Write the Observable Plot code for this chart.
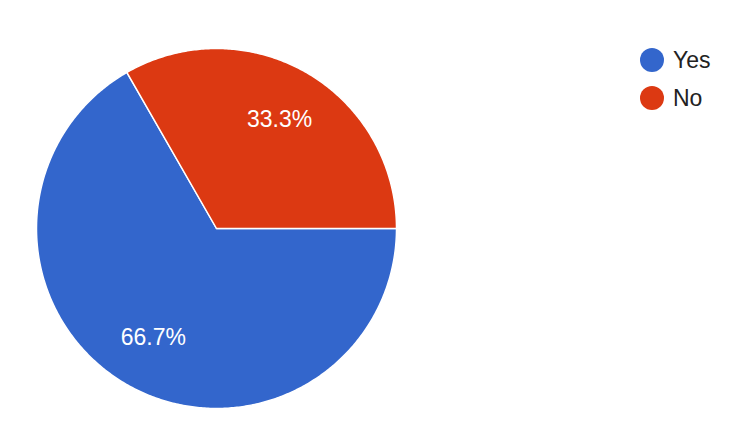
<!DOCTYPE html>
<html>
<head>
<meta charset="utf-8">
<script src="https://cdn.jsdelivr.net/npm/d3@7"></script>
<script src="https://cdn.jsdelivr.net/npm/@observablehq/plot@0.6"></script>
<style>
  body { margin: 0; background: #fff; }
  #wrap { position: relative; width: 738px; height: 448px; font-family: Arial, "Liberation Sans", sans-serif; }
  #legend { position: absolute; left: 640px; top: 41px; }
  .item { display: flex; align-items: center; height: 38px; font-size: 23px; color: #222; }
  .sw { width: 24px; height: 24px; border-radius: 50%; margin-right: 9px; }
</style>
</head>
<body>
<div id="wrap"><div id="legend"></div></div>
<script>
const categories = ["Yes", "No"];
const values = [66.7, 33.3];
const colors = ["#3366cc", "#dc3912"];

const startOffset = Math.PI / 2;
const pie = d3.pie().sort(null).startAngle(startOffset).endAngle(startOffset + 2 * Math.PI);
const arcs = pie(values);
const total = d3.sum(values);

// outline points for each slice (unit-radius geometry)
const outline = [];
arcs.forEach((a, i) => {
  const n = Math.max(2, Math.ceil((a.endAngle - a.startAngle) / 0.01));
  outline.push({cat: categories[i], x: 0, y: 0});
  for (let k = 0; k <= n; k++) {
    const t = a.startAngle + (a.endAngle - a.startAngle) * k / n;
    outline.push({cat: categories[i], x: Math.sin(t), y: Math.cos(t)});
  }
  outline.push({cat: categories[i], x: 0, y: 0});
});

const labels = arcs.map((a, i) => {
  const m = (a.startAngle + a.endAngle) / 2;
  return {cat: categories[i], x: 0.7 * Math.sin(m), y: 0.7 * Math.cos(m), text: d3.format(".1%")(values[i] / total)};
});

const chart = Plot.plot({
  width: 738,
  height: 448,
  marginLeft: 36,
  marginRight: 342,
  marginTop: 48,
  marginBottom: 40,
  x: {domain: [-1, 1], axis: null},
  y: {domain: [-1, 1], axis: null},
  color: {domain: categories, range: colors},
  style: {fontFamily: "Arial, 'Liberation Sans', sans-serif", background: "#fff"},
  marks: [
    Plot.line(outline, {x: "x", y: "y", z: "cat", fill: "cat", stroke: "#fff", strokeWidth: 1.5, curve: "linear"}),
    Plot.text(labels, {x: "x", y: "y", text: "text", fill: "#fff", fontSize: 23})
  ]
});
document.getElementById("wrap").prepend(chart);

const legend = document.getElementById("legend");
categories.forEach((c, i) => {
  const it = document.createElement("div");
  it.className = "item";
  it.innerHTML = `<span class="sw" style="background:${colors[i]}"></span><span>${c}</span>`;
  legend.appendChild(it);
});
</script>
</body>
</html>
